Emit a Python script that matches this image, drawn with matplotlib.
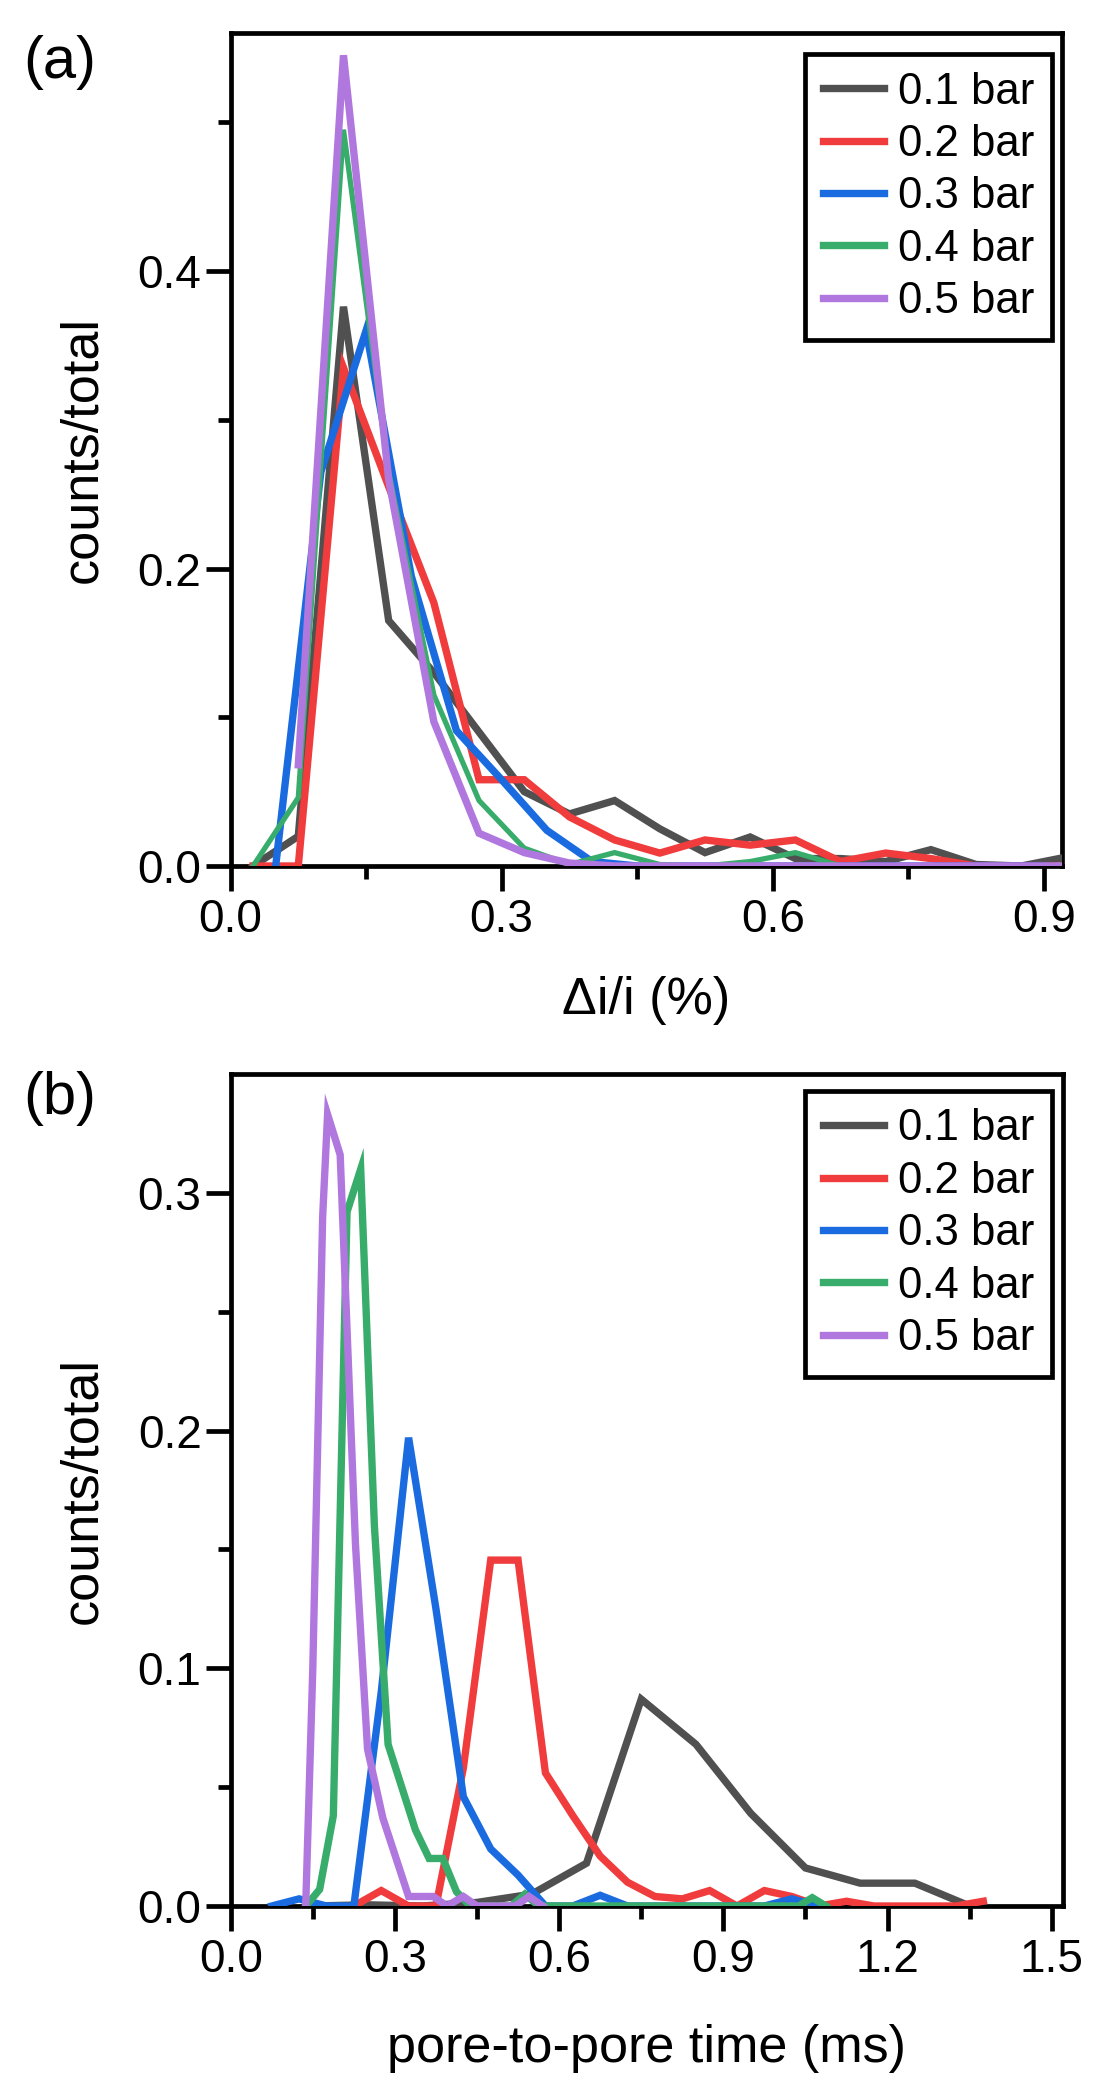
import matplotlib
matplotlib.use('Agg')
import matplotlib.pyplot as plt
from matplotlib.ticker import FixedLocator, FormatStrFormatter

plt.rcParams['font.family'] = ['Liberation Sans', 'DejaVu Sans']

# ---------------- data: panel (a) ----------------
a_x = [0.025, 0.075, 0.125, 0.175, 0.225, 0.275, 0.325, 0.375, 0.425, 0.475,
       0.525, 0.575, 0.625, 0.675, 0.725, 0.775, 0.825, 0.875, 0.925]
a_black = [0.0, 0.02, 0.376, 0.165, 0.13, 0.09, 0.05, 0.035, 0.044, 0.025,
           0.009, 0.0195, 0.005, 0.005, 0.003, 0.011, 0.001, 0.0, 0.006]
a_red = [0.0, 0.0, 0.335, 0.255, 0.177, 0.058, 0.058, 0.033, 0.0175, 0.0087,
         0.0175, 0.014, 0.0175, 0.003, 0.0087, 0.005, 0.0, 0.0, 0.0]
a_blue_x = [0.05, 0.10, 0.15, 0.20, 0.25, 0.30, 0.35, 0.40, 0.45, 0.50,
            0.55, 0.60, 0.65, 0.70, 0.75, 0.80, 0.85, 0.90]
a_blue = [0.0, 0.265, 0.36, 0.195, 0.091, 0.058, 0.024, 0.003, 0.0, 0.0,
          0.0, 0.0, 0.0, 0.0, 0.0, 0.0, 0.0, 0.0]
a_green = [0.0, 0.046, 0.495, 0.265, 0.115, 0.044, 0.012, 0.001, 0.009, 0.001,
           0.0, 0.003, 0.009, 0.0, 0.0, 0.0, 0.0, 0.0, 0.0]
a_purple_x = [0.075, 0.125, 0.175, 0.225, 0.275, 0.325, 0.375, 0.425, 0.475,
              0.525, 0.575, 0.625, 0.675, 0.725, 0.775, 0.825, 0.875, 0.925]
a_purple = [0.068, 0.545, 0.26, 0.097, 0.022, 0.009, 0.002, 0.0, 0.0,
            0.0, 0.0, 0.0, 0.0, 0.0, 0.0, 0.0, 0.0, 0.0]

# ---------------- data: panel (b) ----------------
b_black_x = [0.15, 0.25, 0.35, 0.45, 0.55, 0.65, 0.75, 0.85, 0.95, 1.05, 1.15, 1.25, 1.35]
b_black = [0.0, 0.0005, 0.0, 0.0015, 0.005, 0.018, 0.087, 0.068, 0.039, 0.016, 0.0096, 0.0096, 0.0]

b_red_x = [0.225, 0.275, 0.325, 0.375, 0.425, 0.475, 0.525, 0.575, 0.625, 0.675, 0.725, 0.775,
           0.825, 0.875, 0.925, 0.975, 1.025, 1.075, 1.125, 1.175, 1.325, 1.375]
b_red = [0.0, 0.0065, 0.0, 0.0, 0.058, 0.1455, 0.1455, 0.056, 0.038, 0.021, 0.01, 0.004,
         0.003, 0.0065, 0.0, 0.0065, 0.004, 0.0, 0.002, 0.0, 0.0, 0.002]

b_blue_x = [0.075, 0.125, 0.175, 0.225, 0.275, 0.325, 0.375, 0.425, 0.475, 0.525, 0.575,
            0.625, 0.675, 0.725, 0.975, 1.025, 1.075]
b_blue = [0.0, 0.003, 0.0, 0.0, 0.09, 0.197, 0.125, 0.046, 0.024, 0.013, 0.0,
          0.0, 0.0045, 0.0, 0.0, 0.003, 0.0]

b_green_x = [0.1375, 0.1625, 0.1875, 0.2125, 0.2375, 0.2625, 0.2875, 0.3125, 0.3375, 0.3625,
             0.3875, 0.4125, 0.4375, 0.5125, 0.5375, 0.5625, 1.0375, 1.0625, 1.0875]
b_green = [0.0, 0.007, 0.038, 0.292, 0.31, 0.16, 0.068, 0.05, 0.032, 0.02,
           0.02, 0.006, 0.0, 0.0, 0.005, 0.0, 0.0, 0.0035, 0.0]

b_purple_x = [0.137, 0.15, 0.168, 0.177, 0.2, 0.228, 0.25, 0.278, 0.325, 0.37, 0.395,
              0.425, 0.45, 0.52, 0.545, 0.57]
b_purple = [0.0, 0.1, 0.29, 0.333, 0.316, 0.152, 0.066, 0.037, 0.004, 0.004, 0.0,
            0.004, 0.0, 0.0, 0.004, 0.0]

labels = ['0.1 bar', '0.2 bar', '0.3 bar', '0.4 bar', '0.5 bar']
colors = ['#505050', '#F03C3C', '#1A6BE0', '#38AC6A', '#B078DE']

# ---------------- figure ----------------
W, H = 1110, 2100
fig = plt.figure(figsize=(W / 100, H / 100), dpi=100)


def box(l, t, r, b):
    return [l / W, 1 - b / H, (r - l) / W, (b - t) / H]


ax1 = fig.add_axes(box(230.5, 33, 1062, 866))
ax2 = fig.add_axes(box(230.7, 1074, 1062.7, 1906))

LW = 5.3
series_a = [(a_x, a_black), (a_x, a_red), (a_blue_x, a_blue), (a_x, a_green), (a_purple_x, a_purple)]
lws_a = [LW, LW, LW, 3.8, LW]
for (xs, ys), c, lab, lw in zip(series_a, colors, labels, lws_a):
    ax1.plot(xs, ys, color=c, lw=lw, label=lab, zorder=3, solid_joinstyle='miter')

series_b = [(b_black_x, b_black), (b_red_x, b_red), (b_blue_x, b_blue), (b_green_x, b_green),
            (b_purple_x, b_purple)]
for (xs, ys), c, lab in zip(series_b, colors, labels):
    ax2.plot(xs, ys, color=c, lw=LW, label=lab, zorder=3, solid_joinstyle='miter')

ax1.set_xlim(0, 0.92)
ax1.set_ylim(0, 0.56)
ax2.set_xlim(0, 1.52)
ax2.set_ylim(0, 0.35)

ax1.xaxis.set_major_locator(FixedLocator([0.0, 0.3, 0.6, 0.9]))
ax1.xaxis.set_minor_locator(FixedLocator([0.15, 0.45, 0.75]))
ax1.yaxis.set_major_locator(FixedLocator([0.0, 0.2, 0.4]))
ax1.yaxis.set_minor_locator(FixedLocator([0.1, 0.3, 0.5]))
ax2.xaxis.set_major_locator(FixedLocator([0.0, 0.3, 0.6, 0.9, 1.2, 1.5]))
ax2.xaxis.set_minor_locator(FixedLocator([0.15, 0.45, 0.75, 1.05, 1.35]))
ax2.yaxis.set_major_locator(FixedLocator([0.0, 0.1, 0.2, 0.3]))
ax2.yaxis.set_minor_locator(FixedLocator([0.05, 0.15, 0.25]))

for ax in (ax1, ax2):
    ax.xaxis.set_major_formatter(FormatStrFormatter('%.1f'))
    ax.yaxis.set_major_formatter(FormatStrFormatter('%.1f'))
    for s in ax.spines.values():
        s.set_linewidth(3.4)
        s.set_color('black')
    ax.tick_params(which='major', direction='out', length=18, width=3.4, labelsize=33,
                   top=False, right=False, colors='black')
    ax.tick_params(which='minor', direction='out', length=9.5, width=3.4,
                   top=False, right=False)
    ax.tick_params(axis='y', which='major', pad=3)
    ax.tick_params(axis='x', which='major', pad=5)
    ax.set_ylabel('counts/total', fontsize=37.5, va='center')
    ax.yaxis.set_label_coords(-0.178, 0.5)
    leg = ax.legend(loc='upper right', borderaxespad=0, frameon=True, fancybox=False,
                    edgecolor='black', fontsize=31.5, handlelength=1.4, handletextpad=0.32,
                    labelspacing=0.26, borderpad=0.4, framealpha=1)
    leg.get_frame().set_linewidth(3.4)
    for ln in leg.get_lines():
        ln.set_linewidth(LW)

ax1.get_legend().set_bbox_to_anchor(((1052 - 230.5) / 831.5, (866 - 54) / 833), transform=ax1.transAxes)
ax2.get_legend().set_bbox_to_anchor(((1052 - 230.7) / 832, (1906 - 1091) / 832), transform=ax2.transAxes)

ax1.set_xlabel('\u0394i/i (%)', fontsize=37.5, va='top')
ax1.xaxis.set_label_coords(0.5, (866 - 976) / 833)
ax2.set_xlabel('pore-to-pore time (ms)', fontsize=37.5, va='top')
ax2.xaxis.set_label_coords(0.5, (1906 - 2024) / 832)

fig.text(60 / W, 1 - 62 / H, '(a)', fontsize=43, ha='center', va='center')
fig.text(60 / W, 1 - 1098 / H, '(b)', fontsize=43, ha='center', va='center')

fig.savefig('out.png', dpi=100, facecolor='white')
